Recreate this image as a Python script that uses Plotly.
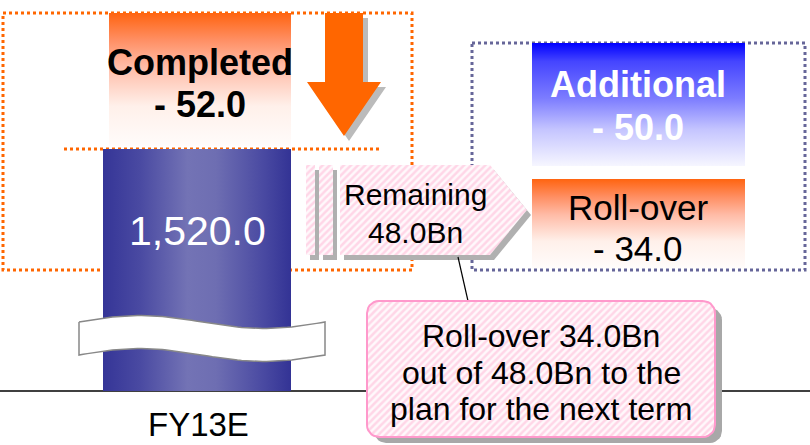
import numpy as np
import plotly.graph_objects as go

# ---- data ----
category = ["FY13E"]
base_value = [1520.0]
step_labels = ["Completed", "Additional", "Roll-over"]
step_values = [-52.0, -50.0, -34.0]
remaining_value = [48.0]
rollover_value = [34.0]

W, H = 810, 445
FONT = "Liberation Sans, Arial, sans-serif"

def Y(p):
    return [H - v for v in p]

fig = go.Figure()

def poly(xs, ys, fill=None, line_color=None, line_width=0, dash=None, closed=True,
         gradient=None, pattern=None):
    xs = list(xs); ys = list(ys)
    if closed:
        xs = xs + [xs[0]]; ys = ys + [ys[0]]
    kw = dict(x=xs, y=Y(ys), mode="lines", hoverinfo="skip", showlegend=False)
    line = dict(width=line_width, color=line_color or "rgba(0,0,0,0)")
    if dash:
        line["dash"] = dash
    kw["line"] = line
    if fill is not None or gradient is not None or pattern is not None:
        kw["fill"] = "toself"
        kw["fillcolor"] = fill if fill else "rgba(0,0,0,0)"
        if gradient is not None:
            kw["fillgradient"] = gradient
        if pattern is not None:
            kw["fillpattern"] = pattern
    fig.add_trace(go.Scatter(**kw))

def rect(x0, y0, x1, y1, **kw):
    poly([x0, x1, x1, x0], [y0, y0, y1, y1], **kw)

ORANGE_GRAD = dict(type="vertical", colorscale=[
    [0, "#fffcfb"], [0.3, "#fff0ea"], [0.6, "#ffbba6"], [0.8, "#ff8e62"], [1, "#ff6410"]])

# baseline
poly([0, W], [391, 391], line_color="black", line_width=1.5, closed=False)

# dotted frames
ORANGE = "#ff6600"
rect(3, 13, 412, 270, line_color=ORANGE, line_width=3, dash="dot")
poly([64, 380], [149, 149], line_color=ORANGE, line_width=3, dash="dot", closed=False)
rect(472, 43, 805, 270, line_color="#666699", line_width=3, dash="dot")

# Completed box (orange gradient)
rect(109, 13, 291, 146, gradient=ORANGE_GRAD)

# down arrow + shadow
def arrow(dx, dy, color):
    xs = [325, 363, 363, 381, 344, 307, 325]
    ys = [13, 13, 82, 82, 136, 82, 82]
    poly([x + dx for x in xs], [y + dy for y in ys], fill=color)
arrow(5, 5, "#bbbbbb")
arrow(0, 0, ORANGE)

# main bar (horizontal gradient)
rect(103, 149, 291, 391, gradient=dict(type="horizontal", colorscale=[
    [0, "#353597"], [0.2, "#4a4aa2"], [0.45, "#7373b5"], [0.6, "#6e6eb2"],
    [0.85, "#4a4aa2"], [1, "#333395"]]))

# wave break
x0w, x1w = 79, 325
xs = np.linspace(x0w, x1w, 60)
t = (xs - x0w) / (x1w - x0w)
top = 322 - 6.5 * np.sin(2 * np.pi * t)
bot = 355 - 6.5 * np.sin(2 * np.pi * t)
poly(list(xs) + list(xs[::-1]), list(top) + list(bot[::-1]), fill="white",
     line_color="#888888", line_width=1.5)

# Remaining arrow
HATCH = dict(shape="/", bgcolor="#fff8fb", fgcolor="#ffb3d4", size=5, solidity=0.5)
def remaining_shapes(dx, dy, shadow):
    kw = dict(fill="#b0b0b0") if shadow else dict(pattern=HATCH, fill="#fff8fb")
    rect(306 + dx, 165 + dy, 315 + dx, 255 + dy, **kw)
    rect(319 + dx, 165 + dy, 333 + dx, 255 + dy, **kw)
    poly([340 + dx, 490 + dx, 527 + dx, 490 + dx, 340 + dx],
         [165 + dy, 165 + dy, 210 + dy, 255 + dy, 255 + dy], **kw)
remaining_shapes(4, 5, True)
remaining_shapes(0, 0, False)

# Additional & Roll-over boxes
rect(532, 43, 745, 166, gradient=dict(type="vertical", colorscale=[
    [0, "#f6f6ff"], [0.3, "#c4c4ff"], [0.55, "#7c7cff"], [0.85, "#4545ff"], [1, "#0000ff"]]))
rect(532, 179, 745, 268, gradient=ORANGE_GRAD)

# connector
poly([458, 468], [257, 301], line_color="black", line_width=1.2, closed=False)

# callout (rounded rectangle)
def rrect(x0, y0, x1, y1, r, n=8):
    pts = []
    for cx, cy, a0 in [(x1 - r, y0 + r, -90), (x1 - r, y1 - r, 0),
                       (x0 + r, y1 - r, 90), (x0 + r, y0 + r, 180)]:
        for a in np.linspace(a0, a0 + 90, n):
            pts.append((cx + r * np.cos(np.radians(a)), cy + r * np.sin(np.radians(a))))
    return [p[0] for p in pts], [p[1] for p in pts]
sx, sy = rrect(374, 308, 722, 443, 12)
poly(sx, sy, fill="#a8a8a8")
cx, cy = rrect(367, 301, 715, 437, 12)
poly(cx, cy, fill="#fff8fb", pattern=HATCH, line_color="#ff99cc", line_width=2)

# ---- text ----
def txt(x, y, s, size, color="black", bold=False, yanchor="middle"):
    fig.add_annotation(x=x, y=H - y, text=f"<b>{s}</b>" if bold else s, showarrow=False,
                       xanchor="center", yanchor=yanchor,
                       font=dict(family=FONT, size=size, color=color))

def fmt(v):
    return f"- {abs(v):.1f}"

txt(200, 62, step_labels[0], 36, bold=True)
txt(200, 104, fmt(step_values[0]), 36, bold=True)
txt(638, 84, step_labels[1], 36, color="white", bold=True)
txt(638, 127, fmt(step_values[1]), 36, color="white", bold=True)
txt(638, 207, step_labels[2], 35)
txt(638, 248, fmt(step_values[2]), 35)
txt(197, 231, f"{base_value[0]:,.1f}", 41, color="white")
txt(198, H, category[0], 33, yanchor="bottom")
txt(415, 194, "Remaining", 30)
txt(415, 232, f"{remaining_value[0]:.1f}Bn", 30)
txt(541, 336, f"Roll-over {rollover_value[0]:.1f}Bn", 32)
txt(541, 373, f"out of {remaining_value[0]:.1f}Bn to the", 32)
txt(541, 409, "plan for the next term", 32)

fig.update_layout(
    width=W, height=H, margin=dict(l=0, r=0, t=0, b=0),
    paper_bgcolor="white", plot_bgcolor="white",
    xaxis=dict(range=[0, W], visible=False, fixedrange=True),
    yaxis=dict(range=[0, H], visible=False, fixedrange=True),
    showlegend=False,
)
fig.write_html("out.html")
